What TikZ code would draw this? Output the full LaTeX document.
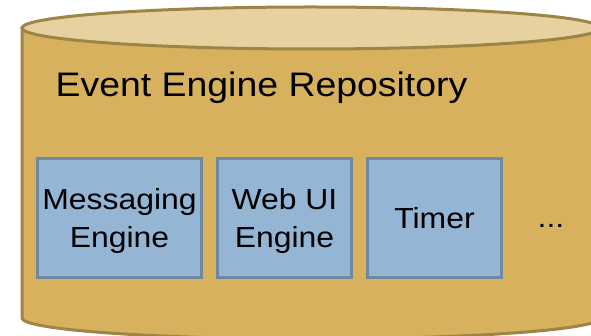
\documentclass[tikz,border=0pt]{standalone}
\usepackage{fontspec}
\setmainfont[FakeStretch=1.1]{Liberation Sans}
\definecolor{cylfill}{HTML}{D7B15E}
\definecolor{cyltop}{HTML}{E8D1A0}
\definecolor{cylline}{HTML}{9E8446}
\definecolor{engfill}{HTML}{94B5D3}
\definecolor{engline}{HTML}{6F889E}
\begin{document}
\begin{tikzpicture}[x=1pt,y=-1pt,
  cyl/.style={fill=cylfill,draw=cylline,line width=3pt},
  cyltopstyle/.style={fill=cyltop,draw=cylline,line width=3pt},
  eng/.style={fill=engfill,draw=engline,line width=3pt,minimum height=119pt,
    inner sep=0pt,align=center,font=\fontsize{29}{38}\selectfont},
  lbl/.style={inner sep=0pt,anchor=base,font=\fontsize{29}{38}\selectfont}]
\useasboundingbox (0,0) rectangle (591,336);
\clip (0,0) rectangle (591,336);
\draw[cyl] (22,28) -- (22,318) arc[start angle=180,end angle=0,x radius=289,y radius=21] -- (600,28) -- cycle;
\draw[cyltopstyle] (311,28) ellipse[x radius=289,y radius=21];
\node[inner sep=0pt,anchor=base west,font=\fontsize{34}{40}\selectfont] (title) at (55.5,97) {Event Engine Repository};
\node[eng,minimum width=164pt] (msg) at (119.5,218) {\rule{0pt}{28pt}Messaging\\Engine};
\node[eng,minimum width=134pt] (web) at (284.5,218) {\rule{0pt}{28pt}Web UI\\Engine};
\node[eng,minimum width=134pt] (timer) at (434.5,218) {Timer};
\node[lbl] (dots) at (551,228) {...};
\end{tikzpicture}
\end{document}
